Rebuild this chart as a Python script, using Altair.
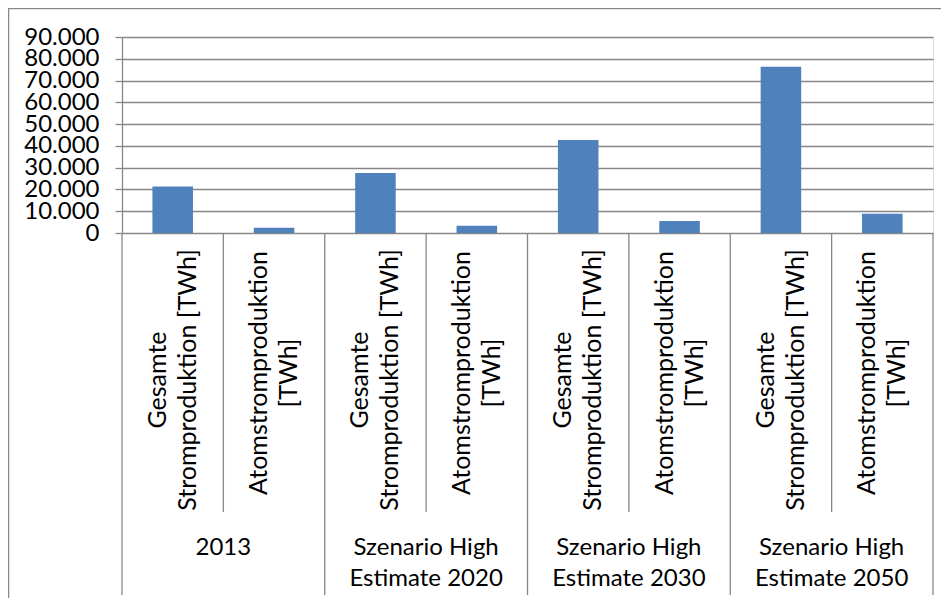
import altair as alt
import pandas as pd

groups = ["2013", "Szenario High\nEstimate 2020", "Szenario High\nEstimate 2030", "Szenario High\nEstimate 2050"]
series = ["Gesamte\nStromproduktion [TWh]", "Atomstromproduktion\n[TWh]"]
gesamt = [21400, 27550, 42700, 76360]
atom = [2430, 3350, 5500, 8860]
y_ticks = [0, 10000, 20000, 30000, 40000, 50000, 60000, 70000, 80000, 90000]

rows = []
for gi, g in enumerate(groups):
    for si, s in enumerate(series):
        rows.append({
            "key": f"{gi}-{si}",
            "group": g,
            "series": s,
            "kind": "first" if si == 0 else "second",
            "value": gesamt[gi] if si == 0 else atom[gi],
        })
df = pd.DataFrame(rows)
keys = list(df["key"])

FONT = "Lato"
GRAY = "#878787"
W, H = 811, 196

xs = alt.Scale(domain=keys, paddingInner=0, paddingOuter=0)
base = alt.Chart(df)

bars = base.mark_bar(color="#4F81BD", width=alt.RelativeBandSize(0.4)).encode(
    x=alt.X("key:N", scale=xs, axis=None, sort=keys),
    y=alt.Y("value:Q", scale=alt.Scale(domain=[0, 90000], nice=False),
            axis=alt.Axis(values=y_ticks, format=",d", title=None, grid=True,
                          gridColor=GRAY, gridWidth=1.3, tickColor=GRAY, tickWidth=1.3,
                          tickSize=7, domainColor=GRAY, domainWidth=1.3,
                          labelFont=FONT, labelFontSize=24, labelColor="black",
                          labelPadding=16, labelOverlap=False, labelFlush=False,
                          labelBound=False)),
)

sub_first = base.transform_filter(alt.datum.kind == "first").mark_text(
    angle=270, align="center", baseline="middle", lineBreak="\n",
    font=FONT, fontSize=25, lineHeight=30, color="black", dy=-15
).encode(x=alt.X("key:N", scale=xs, sort=keys), y=alt.value(343), text="series:N")

sub_second = base.transform_filter(alt.datum.kind == "second").mark_text(
    angle=270, align="center", baseline="middle", lineBreak="\n",
    font=FONT, fontSize=25, lineHeight=30, color="black", dy=-15
).encode(x=alt.X("key:N", scale=xs, sort=keys), y=alt.value(336), text="series:N")

group_text = base.transform_filter(alt.datum.kind == "first").mark_text(
    align="center", baseline="alphabetic", lineBreak="\n",
    font=FONT, fontSize=24, lineHeight=31, color="black"
).encode(x=alt.X("key:N", scale=xs, sort=keys, bandPosition=1), y=alt.value(518), text="group:N")

sub_rules = base.transform_filter(alt.datum.kind == "second").mark_rule(
    color=GRAY, strokeWidth=1.3
).encode(x=alt.X("key:N", scale=xs, sort=keys, bandPosition=0), y=alt.value(196), y2=alt.value(475))

group_rules = base.transform_filter(alt.datum.kind == "first").mark_rule(
    color=GRAY, strokeWidth=1.3
).encode(x=alt.X("key:N", scale=xs, sort=keys, bandPosition=0), y=alt.value(196), y2=alt.value(558))

end_rule = base.transform_filter(alt.datum.key == keys[-1]).mark_rule(
    color=GRAY, strokeWidth=1.3
).encode(x=alt.X("key:N", scale=xs, sort=keys, bandPosition=1), y=alt.value(196), y2=alt.value(558))

one = alt.Chart(pd.DataFrame({"a": [0]}))
border_left = one.mark_rule(color=GRAY, strokeWidth=1.5).encode(
    x=alt.value(-113.5), y=alt.value(-29), y2=alt.value(561))
border_top = one.mark_rule(color=GRAY, strokeWidth=1.5).encode(
    x=alt.value(-114), x2=alt.value(830), y=alt.value(-28.5))

chart = alt.layer(
    bars, sub_rules, group_rules, end_rule, sub_first, sub_second, group_text,
    border_left, border_top
).properties(
    width=W, height=H,
    autosize=alt.AutoSizeParams(type="none"),
    padding={"left": 114, "top": 29, "right": 8, "bottom": 365},
).configure_view(strokeWidth=0).configure(
    locale={"number": {"decimal": ",", "thousands": ".", "grouping": [3], "currency": ["", " €"]}}
)

chart.save("out.html", embed_options={"renderer": "svg", "actions": False})
